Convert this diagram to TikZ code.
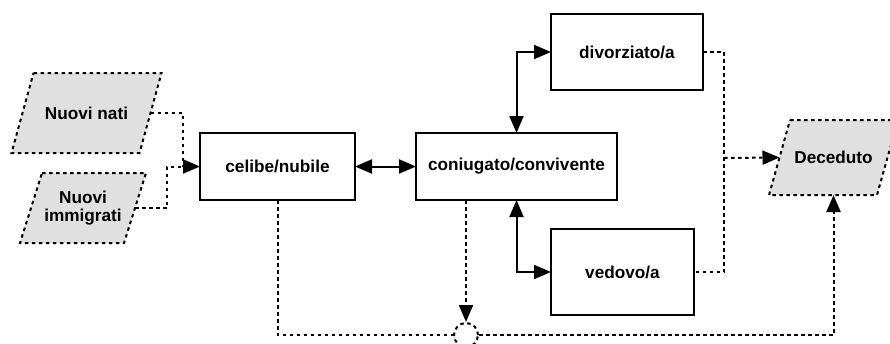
\documentclass[tikz,border=0pt]{standalone}
\usepackage{fontspec}
\setmainfont{Liberation Sans}
\usetikzlibrary{arrows.meta}
\definecolor{paragray}{RGB}{224,224,224}
\tikzset{
  lbl/.style={font=\fontsize{17.2}{18}\selectfont\bfseries, align=center},
  stbox/.style={draw, line width=2.2pt, inner sep=0pt, outer sep=0pt, lbl},
  dotline/.style={line width=2pt, dash pattern=on 3.5pt off 3.5pt},
  link/.style={line width=2pt},
  tipend/.style={-{Triangle[length=17pt,width=14pt]}},
  tipboth/.style={{Triangle[length=17pt,width=14pt]}-{Triangle[length=17pt,width=14pt]}},
  parabody/.style={inner sep=0pt, outer sep=0pt},
  parashape/.style={draw, fill=paragray, dotline},
}
% parallelogram drawn over a named frame node, #2 = half of the horizontal slant
\newcommand\drawpara[2]{%
  \path[parashape] ([xshift=#2]#1.north west) -- ([xshift=#2]#1.north east)
    -- ([xshift=-#2]#1.south east) -- ([xshift=-#2]#1.south west) -- cycle;}
\begin{document}
\begin{tikzpicture}[x=1pt,y=-1pt]
\useasboundingbox (0,0) rectangle (890,343);

% sources and sink (parallelograms)
\node[parabody, minimum width=128pt, minimum height=80pt] (nati) at (86.5,113) {};
\drawpara{nati}{11pt}
\node[lbl] at (nati.center) {Nuovi nati};
\node[parabody, minimum width=104pt, minimum height=70pt] (immi) at (83,208) {};
\drawpara{immi}{11pt}
\node[lbl] at (immi.center) {Nuovi\\immigrati};
\node[parabody, minimum width=108pt, minimum height=75pt] (dec) at (833.5,157.5) {};
\drawpara{dec}{10.5pt}
\node[lbl] at (dec.center) {Deceduto};

% marital states
\node[stbox, minimum width=155pt, minimum height=67pt] (celibe) at (277.5,166.5) {celibe/nubile};
\node[stbox, minimum width=201pt, minimum height=67pt] (coniug) at (516.5,166.5) {coniugato/convivente};
\node[stbox, minimum width=152pt, minimum height=76pt] (divorz) at (627,52) {divorziato/a};
\node[stbox, minimum width=143pt, minimum height=86pt] (vedovo) at (622.5,272) {vedovo/a};

% junction
\node[circle, draw, dotline, minimum size=24pt, inner sep=0pt] (circ) at (466,335) {};

% helper points
\coordinate (inA) at (183,166.5);
\coordinate (inB) at (167,166.5);
\coordinate (vj) at (724,272);
\coordinate (dj) at (724,158);

% entries
\draw[dotline] (nati.east) -| (inA);
\draw[dotline, tipend] (immi.east) -| (inB) -- (celibe.west);

% transitions between states
\draw[link, tipboth] (celibe.east) -- (coniug.west);
\draw[link, tipboth] (divorz.west) -| (coniug.north);
\draw[link, tipboth] (vedovo.west) -| (coniug.south);

% deaths
\draw[dotline] (divorz.east) -| (vj) -- (vedovo.east);
\draw[dotline, tipend] (dj) -- (dec.west);
\draw[dotline] (celibe.south) |- (circ.west);
\draw[dotline, tipend] (circ |- coniug.south) -- (circ.north);
\draw[dotline, tipend] (circ.east) -| (dec.south);
\end{tikzpicture}
\end{document}
